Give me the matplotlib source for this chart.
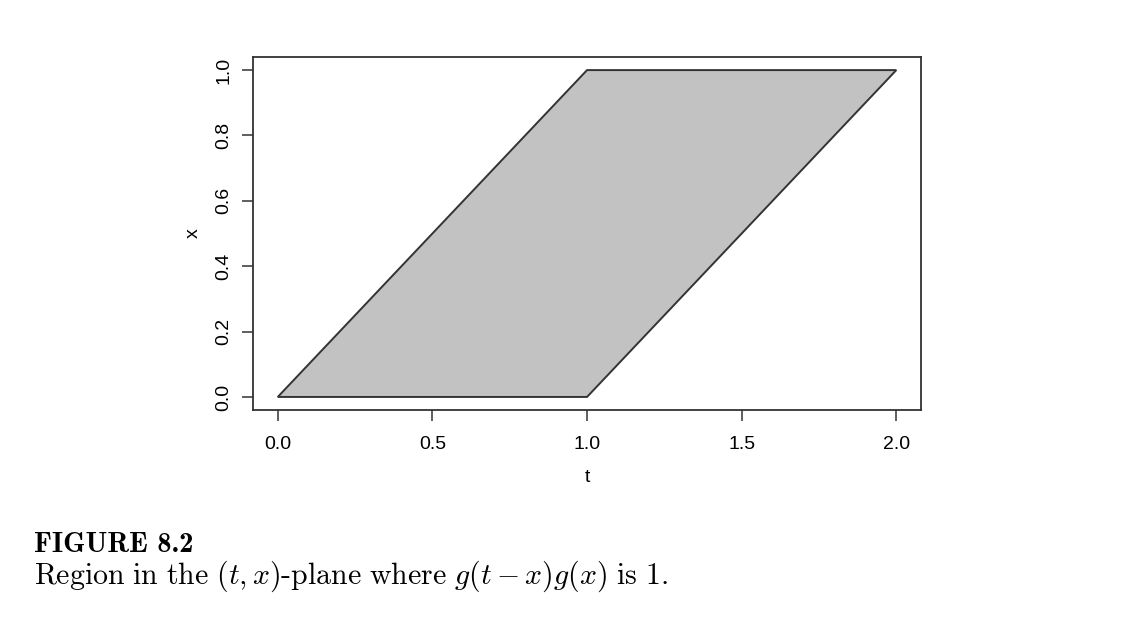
import matplotlib
matplotlib.use('Agg')
import matplotlib.pyplot as plt

plt.rcParams['font.family'] = ['Liberation Sans', 'DejaVu Sans']
plt.rcParams['mathtext.fontset'] = 'cm'

# region vertices in the (t, x) plane
t_vals = [0.0, 1.0, 2.0, 1.0]
x_vals = [0.0, 0.0, 1.0, 1.0]

x_ticks = [0.0, 0.5, 1.0, 1.5, 2.0]
y_ticks = [0.0, 0.2, 0.4, 0.6, 0.8, 1.0]

fig = plt.figure(figsize=(11.22, 6.28), dpi=100)
ax = fig.add_axes([0.2255, 0.3471, 0.5954, 0.5621])

ax.fill(t_vals, x_vals, facecolor='#c2c2c2', edgecolor='#333333', linewidth=1.4)

ax.set_xlim(-0.08, 2.08)
ax.set_ylim(-0.04, 1.04)
ax.set_xticks(x_ticks)
ax.set_yticks(y_ticks)
ax.set_xticklabels(['%.1f' % v for v in x_ticks])
ax.set_yticklabels(['%.1f' % v for v in y_ticks], rotation=90, va='center')

for s in ax.spines.values():
    s.set_color('#333333')
    s.set_linewidth(1.3)
ax.tick_params(direction='out', length=8, width=1.1, color='#333333',
               labelsize=14)
ax.tick_params(axis='x', pad=11)
ax.tick_params(axis='y', pad=7)

ax.set_xlabel('t', fontsize=14, labelpad=11)
ax.set_ylabel('x', fontsize=14, labelpad=10)

fig.text(0.030, 1 - 552 / 628, 'FIGURE 8.2', fontfamily='cmb10', fontsize=20.5,
         ha='left', va='baseline')
fig.text(0.030, 1 - 584 / 628,
         r'$\mathrm{Region\ in\ the\ }(t,x)\mathrm{\text{-}plane\ where\ }g(t-x)g(x)\mathrm{\ is\ 1.}$',
         fontsize=21.5, ha='left', va='baseline')

fig.savefig('out.png', dpi=100)
